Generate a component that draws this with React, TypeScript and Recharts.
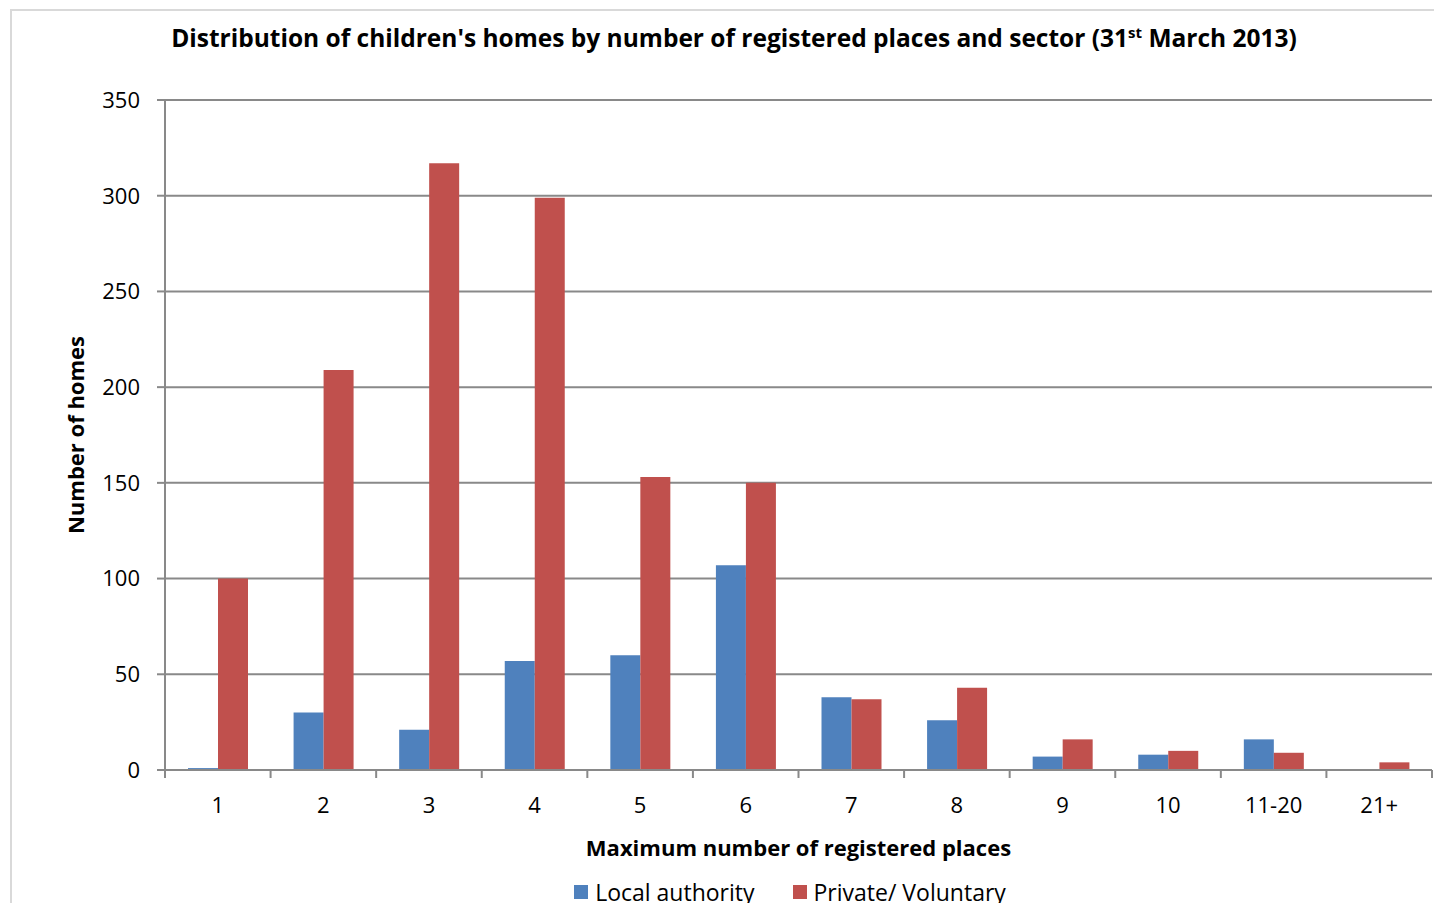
import React from 'react';
import { BarChart, Bar, XAxis, YAxis, CartesianGrid, Legend } from 'recharts';

const categories = ['1', '2', '3', '4', '5', '6', '7', '8', '9', '10', '11-20', '21+'];
const localAuthority = [1, 30, 21, 57, 60, 107, 38, 26, 7, 8, 16, 0];
const privateVoluntary = [100, 209, 317, 299, 153, 150, 37, 43, 16, 10, 9, 4];
const yTicks = [0, 50, 100, 150, 200, 250, 300, 350];

const data = categories.map((name, i) => ({
  name,
  la: localAuthority[i],
  pv: privateVoluntary[i],
}));

const W = 1442;
const H = 911;
const MARGIN = { top: 100, right: 10, bottom: 0, left: 0 };
const Y_AXIS_W = 165;
const X_AXIS_H = 141;
const BAND = (W - MARGIN.left - MARGIN.right - Y_AXIS_W) / categories.length;

const GRID = '#898989';
const BLUE = '#4f81bd';
const RED = '#c0504d';
const FONT = "'Open Sans', sans-serif";

const XTick = (props: any) => {
  const { x, y, payload, index } = props;
  const half = BAND / 2;
  return (
    <g>
      <line x1={x - half} x2={x - half} y1={y} y2={y + 8} stroke={GRID} strokeWidth={2} />
      {index === categories.length - 1 && (
        <line x1={x + half} x2={x + half} y1={y} y2={y + 8} stroke={GRID} strokeWidth={2} />
      )}
      <text x={x} y={y + 43} textAnchor="middle" fill="#000" fontSize={22} fontFamily={FONT}>
        {payload.value}
      </text>
    </g>
  );
};

const LegendContent = () => (
  <div style={{ display: 'flex', justifyContent: 'center', alignItems: 'center', fontSize: 23, lineHeight: '30px', color: '#000', fontFamily: FONT }}>
    <span style={{ display: 'inline-block', width: 14, height: 14, background: BLUE, marginRight: 7 }} />
    <span style={{ marginRight: 38 }}>Local authority</span>
    <span style={{ display: 'inline-block', width: 14, height: 14, background: RED, marginRight: 7 }} />
    <span>Private/ Voluntary</span>
  </div>
);

export default function App() {
  return (
    <div style={{ position: 'relative', width: W, height: H, margin: -8, overflow: 'hidden', background: '#fff', fontFamily: FONT }}>
      <div style={{ position: 'absolute', left: 10, top: 9, width: W, height: H, border: '2px solid #d9d9d9' }} />
      <div style={{ position: 'absolute', left: 0, top: 22, width: 1468, textAlign: 'center', fontSize: 24.5, fontWeight: 700, lineHeight: '32px', color: '#000', whiteSpace: 'nowrap' }}>
        Distribution of children's homes by number of registered places and sector (31
        <sup style={{ fontSize: 15, lineHeight: 0 }}>st</sup> March 2013)
      </div>
      <BarChart width={W} height={H} data={data} margin={MARGIN} barSize={30} barGap={0}>
        <CartesianGrid horizontal vertical={false} stroke={GRID} strokeWidth={2} />
        <XAxis
          dataKey="name"
          height={X_AXIS_H}
          axisLine={{ stroke: GRID, strokeWidth: 2 }}
          tickLine={false}
          tickSize={0}
          tickMargin={0}
          interval={0}
          tick={<XTick />}
        />
        <YAxis
          width={Y_AXIS_W}
          domain={[0, 350]}
          ticks={yTicks}
          interval={0}
          axisLine={{ stroke: GRID, strokeWidth: 2 }}
          tickLine={{ stroke: GRID, strokeWidth: 2 }}
          tickSize={8}
          tickMargin={17}
          tick={{ fill: '#000', fontSize: 22, fontFamily: FONT }}
        />
        <Legend
          layout="horizontal"
          verticalAlign="middle"
          align="center"
          wrapperStyle={{ top: 877, left: 0, width: 1580 }}
          content={<LegendContent />}
        />
        <Bar dataKey="la" name="Local authority" fill={BLUE} isAnimationActive={false} />
        <Bar dataKey="pv" name="Private/ Voluntary" fill={RED} isAnimationActive={false} />
      </BarChart>
      <div style={{ position: 'absolute', left: 165, width: 1267, top: 832, textAlign: 'center', fontSize: 22, fontWeight: 700, lineHeight: '30px', color: '#000' }}>
        Maximum number of registered places
      </div>
      <div
        style={{
          position: 'absolute',
          left: 75 - 150,
          top: 435 - 15,
          width: 300,
          textAlign: 'center',
          fontSize: 22,
          fontWeight: 700,
          lineHeight: '30px',
          color: '#000',
          transform: 'rotate(-90deg)',
        }}
      >
        Number of homes
      </div>
    </div>
  );
}
